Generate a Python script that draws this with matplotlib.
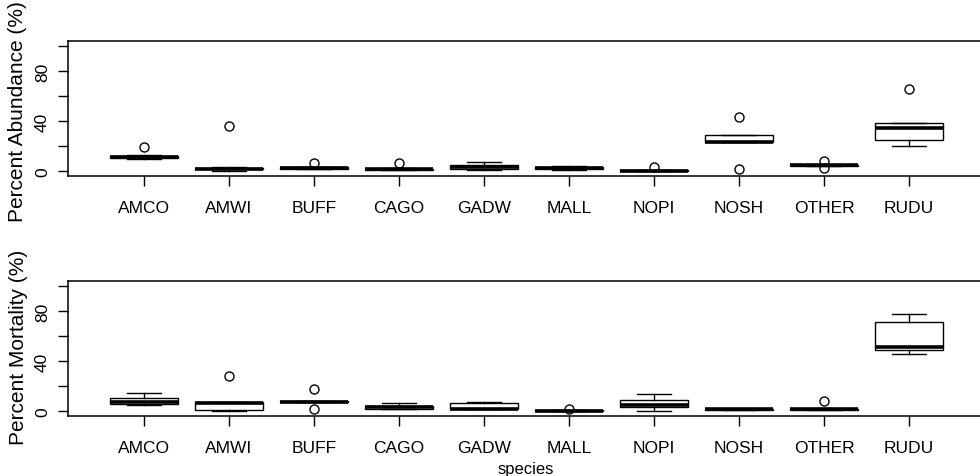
# boxplots of percent abundance / mortality by species (R-style look)
import matplotlib
matplotlib.use('Agg')
import matplotlib.pyplot as plt

plt.rcParams['font.family'] = ['Liberation Sans', 'DejaVu Sans']

# ---- data ----
species = ['AMCO', 'AMWI', 'BUFF', 'CAGO', 'GADW',
           'MALL', 'NOPI', 'NOSH', 'OTHER', 'RUDU']

abund_q1  = [10.5, 1.5, 1.8, 1.0, 1.5, 1.5, 0.0, 23.0, 4.0, 25.0]
abund_med = [11.0, 2.0, 2.3, 1.3, 3.0, 2.5, 0.3, 23.5, 4.5, 34.5]
abund_q3  = [12.0, 2.5, 3.0, 2.0, 5.0, 3.5, 0.8, 29.0, 5.0, 38.5]
abund_lo  = [10.0, 0.0, 1.5, 0.5, 0.5, 1.0, 0.0, 23.0, 3.8, 20.0]
abund_hi  = [12.5, 3.0, 3.5, 2.5, 7.5, 4.0, 1.0, 29.0, 5.2, 38.5]
abund_out = [[19], [36], [6.5], [6.5], [], [], [3.5], [43, 2], [7.8, 2.4], [66]]

mort_q1  = [5.5, 0.5, 7.0, 2.0, 1.5, 0.0, 3.5, 1.0, 1.0, 49.0]
mort_med = [7.0, 6.5, 7.5, 3.0, 2.0, 0.3, 4.8, 1.4, 1.4, 51.0]
mort_q3  = [10.5, 7.5, 8.0, 4.0, 6.5, 0.5, 8.5, 1.8, 1.8, 71.5]
mort_lo  = [4.5, 0.0, 7.0, 1.5, 1.5, 0.0, 0.3, 0.8, 0.8, 46.0]
mort_hi  = [14.5, 7.5, 8.0, 6.5, 7.0, 0.5, 13.5, 2.0, 2.0, 77.5]
mort_out = [[], [28], [17.5, 1.5], [], [], [1.5], [], [], [8], []]


def make_stats(q1, med, q3, lo, hi, out):
    return [dict(q1=a, med=m, q3=b, whislo=l, whishi=h, fliers=f, label=s)
            for a, m, b, l, h, f, s in zip(q1, med, q3, lo, hi, out, species)]


def draw_panel(ax, stats):
    pos = list(range(1, len(species) + 1))
    ax.bxp(stats, positions=pos, widths=0.8, capwidths=0.4, patch_artist=True,
           boxprops=dict(facecolor='white', edgecolor='black', linewidth=1.0),
           medianprops=dict(color='black', linewidth=2.6, solid_capstyle='butt'),
           whiskerprops=dict(color='black', linewidth=1.0),
           capprops=dict(color='black', linewidth=1.0),
           flierprops=dict(marker='o', markerfacecolor='none',
                           markeredgecolor='black', markersize=6.5,
                           markeredgewidth=1.0))
    ax.set_xlim(0.106, 10.894)
    ax.set_ylim(-4, 104)
    ax.set_yticks([0, 20, 40, 60, 80, 100])
    ax.set_yticklabels(['0', '', '40', '', '80', ''])
    ax.set_xticks(pos)
    ax.set_xticklabels(species)
    for sp in ax.spines.values():
        sp.set_linewidth(1.1)
    ax.tick_params(axis='x', length=7, width=1.0, pad=10, labelsize=12.5)
    ax.tick_params(axis='y', length=7, width=1.0, pad=6, labelsize=12.5,
                   labelrotation=90)
    for t in ax.get_yticklabels():
        t.set_verticalalignment('center')


fig = plt.figure(figsize=(9.8, 4.77), dpi=100)
W, H = 980, 477
ax1 = fig.add_axes([68 / W, 1 - 177 / H, (985 - 68) / W, 135 / H])
ax2 = fig.add_axes([68 / W, 1 - 417 / H, (985 - 68) / W, 135 / H])

draw_panel(ax1, make_stats(abund_q1, abund_med, abund_q3, abund_lo, abund_hi, abund_out))
draw_panel(ax2, make_stats(mort_q1, mort_med, mort_q3, mort_lo, mort_hi, mort_out))

fig.text(18 / W, 1 - 112 / H, 'Percent Abundance (%)', rotation=90,
         ha='center', va='center', fontsize=15)
fig.text(18 / W, 1 - 347 / H, 'Percent Mortality (%)', rotation=90,
         ha='center', va='center', fontsize=15)
fig.text(526 / W, 1 - 470 / H, 'species', ha='center', va='center', fontsize=12)

fig.savefig('out.png', dpi=100)
